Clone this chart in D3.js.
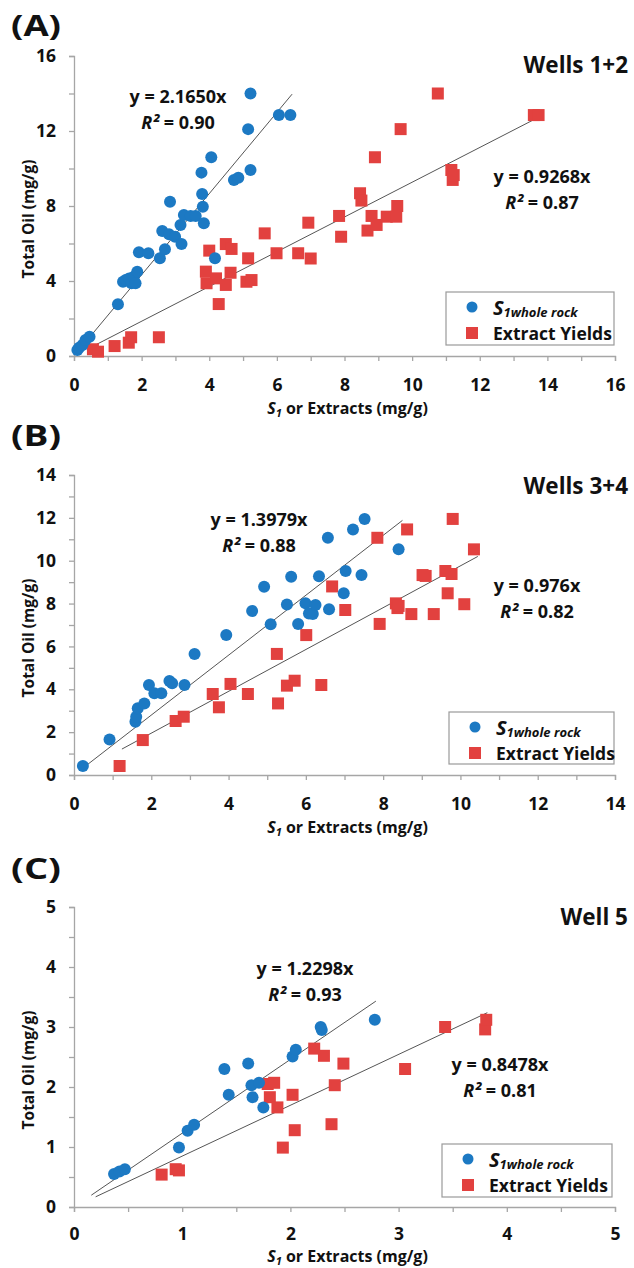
<!DOCTYPE html>
<html>
<head>
<meta charset="utf-8">
<script src="https://cdn.jsdelivr.net/npm/d3@7"></script>
<style>
  body { margin: 0; background: #fff; }
  text { font-family: "Open Sans", Lato, sans-serif; font-weight: bold; fill: #111; }
</style>
</head>
<body>
<div id="chart"></div>
<script>
// ---- data ----
// Wells 1+2
var s1A = [[0.10,0.32],[0.15,0.44],[0.25,0.59],[0.34,0.85],[0.46,1.03],[1.30,2.76],[1.45,3.96],[1.53,4.05],
  [1.63,4.14],[1.70,3.88],[1.77,4.23],[1.82,3.88],[1.87,4.50],[1.92,5.53],[2.20,5.48],[2.54,5.21],[2.61,6.67],
  [2.69,5.69],[2.81,6.49],[2.84,8.23],[2.99,6.36],[3.15,6.99],[3.18,5.97],[3.25,7.52],[3.45,7.47],[3.60,7.47],
  [3.77,9.78],[3.79,8.64],[3.81,7.96],[3.84,7.08],[4.06,10.6],[4.17,5.21],[4.73,9.39],[4.86,9.51],[5.15,12.1],
  [5.22,9.92],[5.22,14.0],[6.06,12.85],[6.40,12.85]];
var extA = [[0.56,0.36],[0.71,0.23],[1.20,0.53],[1.62,0.71],[1.69,1.00],[2.51,1.00],[3.90,4.50],[3.92,3.88],
  [4.00,5.62],[4.20,4.14],[4.28,2.77],[4.49,3.79],[4.49,5.97],[4.63,4.44],[4.66,5.71],[5.10,3.96],[5.15,5.21],
  [5.25,4.05],[5.64,6.54],[5.99,5.48],[6.63,5.48],[6.93,7.11],[7.00,5.20],[7.84,7.47],[7.90,6.36],[8.46,8.68],
  [8.50,8.29],[8.68,6.69],[8.80,7.47],[8.90,10.6],[8.95,6.99],[9.25,7.43],[9.53,7.43],[9.56,8.00],[9.66,12.1],
  [10.76,14.0],[11.16,9.92],[11.20,9.39],[11.23,9.65],[13.60,12.85],[13.74,12.85]];
// Wells 3+4
var s1B = [[0.23,0.42],[0.92,1.66],[1.59,2.49],[1.61,2.72],[1.65,3.11],[1.82,3.34],[1.94,4.20],[2.08,3.81],
  [2.26,3.81],[2.47,4.39],[2.54,4.28],[2.86,4.20],[3.12,5.65],[3.94,6.53],[4.61,7.65],[4.92,8.79],[5.09,7.03],
  [5.51,7.96],[5.62,9.25],[5.80,7.05],[5.99,8.01],[6.08,7.54],[6.18,7.51],[6.25,7.93],[6.34,9.28],[6.57,11.07],
  [6.60,7.73],[6.98,8.48],[7.03,9.52],[7.22,11.46],[7.44,9.33],[7.52,11.95],[8.40,10.53]];
var extB = [[1.18,0.42],[1.78,1.63],[2.63,2.52],[2.84,2.72],[3.59,3.78],[3.75,3.16],[4.05,4.25],[4.50,3.78],
  [5.25,5.65],[5.28,3.34],[5.51,4.17],[5.71,4.40],[6.01,6.53],[6.40,4.20],[6.68,8.80],[7.02,7.70],[7.85,11.07],
  [7.91,7.05],[8.33,8.01],[8.37,7.79],[8.40,7.89],[8.62,11.46],[8.73,7.51],[9.02,9.33],[9.10,9.29],[9.31,7.51],
  [9.61,9.52],[9.67,8.48],[9.77,9.38],[9.80,11.95],[10.10,7.97],[10.35,10.53]];
// Well 5
var s1C = [[0.37,0.55],[0.42,0.59],[0.47,0.63],[0.97,0.99],[1.05,1.27],[1.11,1.37],[1.39,2.30],[1.43,1.87],
  [1.61,2.39],[1.64,2.03],[1.65,1.83],[1.71,2.07],[1.75,1.66],[2.02,2.51],[2.05,2.62],[2.28,3.00],[2.29,2.95],
  [2.78,3.12]];
var extC = [[0.81,0.54],[0.94,0.63],[0.97,0.61],[1.79,2.05],[1.81,1.83],[1.85,2.07],[1.88,1.66],[1.93,0.99],
  [2.02,1.87],[2.04,1.28],[2.22,2.64],[2.31,2.52],[2.38,1.38],[2.41,2.03],[2.49,2.39],[3.06,2.30],[3.43,3.00],
  [3.80,2.96],[3.81,3.12]];

// trendlines through the origin: slope, x range drawn, R2
var fitSlopes = [[2.1650, 0.9268], [1.3979, 0.976], [1.2298, 0.8478]];
var fitRanges = [[[0.15, 6.45], [0.60, 13.8]], [[0.27, 8.5], [1.24, 10.45]], [[0.16, 2.79], [0.20, 3.82]]];
var fitSlopeText = [["2.1650", "0.9268"], ["1.3979", "0.976"], ["1.2298", "0.8478"]];
var fitR2Text = [["0.90", "0.87"], ["0.88", "0.82"], ["0.93", "0.81"]];

// axes
var axisMax = [16, 14, 5];
var xTicksA = d3.range(0, 16.01, 1), xLabelsA = [0, 2, 4, 6, 8, 10, 12, 14, 16];
var yTicksA = d3.range(0, 16.01, 2), yLabelsA = [0, 4, 8, 12, 16];
var xTicksB = d3.range(0, 14.01, 1), xLabelsB = [0, 2, 4, 6, 8, 10, 12, 14];
var yTicksB = d3.range(0, 14.01, 1), yLabelsB = [0, 2, 4, 6, 8, 10, 12, 14];
var xTicksC = d3.range(0, 5.01, 0.5), xLabelsC = [0, 1, 2, 3, 4, 5];
var yTicksC = d3.range(0, 5.01, 0.5), yLabelsC = [0, 1, 2, 3, 4, 5];

var panelTags = ["(A)", "(B)", "(C)"];
var panelTitles = ["Wells 1+2", "Wells 3+4", "Well 5"];

var blue = "#1c79c3";
var red = "#e2413f";

// ---- layout ----
var svg = d3.select("#chart").append("svg")
  .attr("width", 634)
  .attr("height", 1268);

var panels = [
  { s1: s1A, ext: extA, xt: xTicksA, xl: xLabelsA, yt: yTicksA, yl: yLabelsA,
    left: 74, right: 615, top: 56, bottom: 356, pad: 18, titleGap: 58,
    eq: [[178, 103], [542, 183]], legend: [446, 292, 168, 53], tagY: 36, titleY: 73 },
  { s1: s1B, ext: extB, xt: xTicksB, xl: xLabelsB, yt: yTicksB, yl: yLabelsB,
    left: 74, right: 615, top: 475, bottom: 775, pad: 18, titleGap: 58,
    eq: [[259, 526], [537, 592]], legend: [449, 712, 165, 52], tagY: 446, titleY: 494 },
  { s1: s1C, ext: extC, xt: xTicksC, xl: xLabelsC, yt: yTicksC, yl: yLabelsC,
    left: 74, right: 615, top: 907, bottom: 1207, pad: 16, titleGap: 55,
    eq: [[305, 975], [500, 1071]], legend: [442, 1144, 170, 53], tagY: 879, titleY: 925 }
];

panels.forEach(function(p, i) {
  var x = d3.scaleLinear().domain([0, axisMax[i]]).range([p.left, p.right]);
  var y = d3.scaleLinear().domain([0, axisMax[i]]).range([p.bottom, p.top]);
  var g = svg.append("g");

  // x axis
  var xAxis = g.append("g")
    .attr("transform", `translate(0, ${p.bottom})`)
    .call(d3.axisBottom(x).tickValues(p.xt).tickSize(5).tickPadding(p.pad)
      .tickFormat(d => p.xl.indexOf(d) >= 0 ? d : ""));
  // y axis
  var yAxis = g.append("g")
    .attr("transform", `translate(${p.left}, 0)`)
    .call(d3.axisLeft(y).tickValues(p.yt).tickSize(5).tickPadding(13)
      .tickFormat(d => p.yl.indexOf(d) >= 0 ? d : ""));

  [xAxis, yAxis].forEach(function(a) {
    a.select(".domain").attr("stroke", "#a6a6a6").attr("stroke-width", 1.3);
    a.selectAll(".tick line").attr("stroke", "#a6a6a6").attr("stroke-width", 1.3);
    a.selectAll(".tick text")
      .attr("font-family", "'Open Sans', Lato, sans-serif")
      .attr("font-weight", "bold")
      .attr("font-size", 17.5)
      .attr("fill", "#111");
  });

  // axis titles
  var xt = g.append("text")
    .attr("x", (p.left + p.right) / 2 + 3)
    .attr("y", p.bottom + p.titleGap)
    .attr("text-anchor", "middle")
    .attr("font-size", 16);
  xt.append("tspan").attr("font-style", "italic").text("S");
  xt.append("tspan").attr("font-style", "italic").attr("font-size", 11).attr("dy", 3).text("1");
  xt.append("tspan").attr("dy", -3).text(" or Extracts (mg/g)");

  g.append("text")
    .attr("transform", `translate(34, ${(p.top + p.bottom) / 2 + 13}) rotate(-90)`)
    .attr("text-anchor", "middle")
    .attr("font-size", 15.5)
    .text("Total Oil (mg/g)");

  // panel tag and title
  g.append("text")
    .attr("x", 11)
    .attr("y", p.tagY)
    .attr("font-size", 29)
    .attr("textLength", 50)
    .attr("lengthAdjust", "spacingAndGlyphs")
    .text(panelTags[i]);
  g.append("text")
    .attr("x", 628)
    .attr("y", p.titleY)
    .attr("text-anchor", "end")
    .attr("font-size", 22.5)
    .text(panelTitles[i]);

  // trendlines
  [0, 1].forEach(function(k) {
    var r = fitRanges[i][k];
    g.append("line")
      .attr("x1", x(r[0])).attr("y1", y(fitSlopes[i][k] * r[0]))
      .attr("x2", x(r[1])).attr("y2", y(fitSlopes[i][k] * r[1]))
      .attr("stroke", "#555")
      .attr("stroke-width", 1);
  });

  // extract yields (squares)
  g.selectAll("rect.ext")
    .data(p.ext)
    .enter()
    .append("rect")
    .attr("class", "ext")
    .attr("x", d => x(d[0]) - 6)
    .attr("y", d => y(d[1]) - 6)
    .attr("width", 12)
    .attr("height", 12)
    .attr("fill", red);

  // S1 whole rock (circles)
  g.selectAll("circle.s1")
    .data(p.s1)
    .enter()
    .append("circle")
    .attr("class", "s1")
    .attr("cx", d => x(d[0]))
    .attr("cy", d => y(d[1]))
    .attr("r", 6)
    .attr("fill", blue);

  // equations
  [0, 1].forEach(function(k) {
    var e = p.eq[k];
    g.append("text")
      .attr("x", e[0]).attr("y", e[1])
      .attr("text-anchor", "middle")
      .attr("font-size", 18)
      .text("y = " + fitSlopeText[i][k] + "x");
    var r2 = g.append("text")
      .attr("x", e[0]).attr("y", e[1] + 26)
      .attr("text-anchor", "middle")
      .attr("font-size", 18);
    r2.append("tspan").attr("font-style", "italic").text("R\u00b2");
    r2.append("tspan").text(" = " + fitR2Text[i][k]);
  });

  // legend
  var L = p.legend;
  var lg = g.append("g").attr("transform", `translate(${L[0]}, ${L[1]})`);
  lg.append("rect")
    .attr("width", L[2]).attr("height", L[3])
    .attr("fill", "#fff")
    .attr("stroke", "#9a9a9a")
    .attr("stroke-width", 1.2);
  lg.append("circle").attr("cx", 26).attr("cy", 15).attr("r", 5.5).attr("fill", blue);
  lg.append("rect").attr("x", 20).attr("y", 35).attr("width", 12).attr("height", 12).attr("fill", red);
  var l1 = lg.append("text").attr("x", 47).attr("y", 23).attr("font-style", "italic");
  l1.append("tspan").attr("font-size", 20).text("S");
  l1.append("tspan").attr("font-size", 13).attr("dy", 2).text("1whole rock");
  lg.append("text").attr("x", 47).attr("y", 48).attr("font-size", 17.5).text("Extract Yields");
});
</script>
</body>
</html>
